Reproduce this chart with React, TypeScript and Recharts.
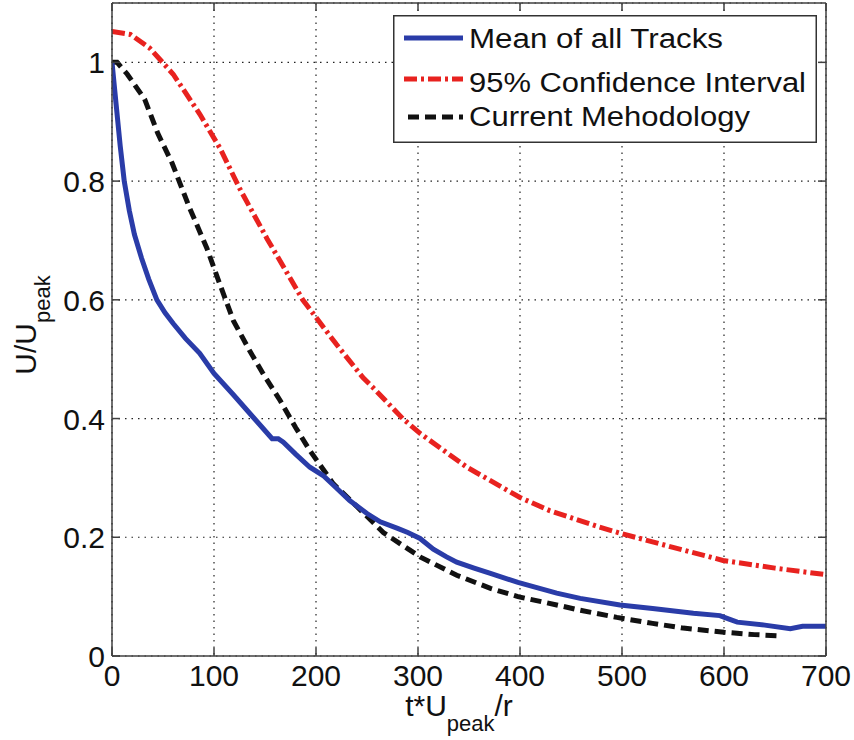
import React from 'react';
import { LineChart, Line, XAxis, YAxis, CartesianGrid, Legend } from 'recharts';

const FONT = '"Liberation Sans", Arial, Helvetica, sans-serif';
const AX = '#404040';

// Mean of all Tracks
const meanX = [0, 4, 8, 12, 17, 22, 29, 36, 44, 52, 60, 72, 86, 100, 119, 138, 157, 163, 168, 180, 194, 207, 220, 233, 250, 263, 280, 290, 302, 315, 328, 338, 355, 371, 398, 436, 459, 498, 530, 570, 596, 605, 613, 640, 665, 677, 700];
const meanY = [1.0, 0.93, 0.86, 0.8, 0.75, 0.71, 0.67, 0.635, 0.6, 0.578, 0.56, 0.535, 0.51, 0.476, 0.44, 0.403, 0.366, 0.366, 0.36, 0.34, 0.318, 0.304, 0.283, 0.262, 0.24, 0.226, 0.215, 0.208, 0.198, 0.18, 0.167, 0.158, 0.148, 0.139, 0.124, 0.106, 0.097, 0.086, 0.08, 0.072, 0.068, 0.062, 0.057, 0.052, 0.046, 0.05, 0.05];

// 95% Confidence Interval
const ciX = [0, 18, 37, 60, 86, 106, 125, 152, 187, 220, 246, 256, 285, 302, 348, 400, 429, 478, 498, 550, 599, 650, 700];
const ciY = [1.052, 1.047, 1.024, 0.98, 0.913, 0.855, 0.788, 0.703, 0.6, 0.525, 0.469, 0.452, 0.4, 0.375, 0.318, 0.267, 0.245, 0.217, 0.207, 0.183, 0.161, 0.148, 0.137];

// Current Mehodology
const cmX = [0, 5, 15, 32, 45, 59, 76, 93, 106, 119, 135, 148, 165, 180, 194, 217, 240, 266, 302, 338, 371, 398, 436, 459, 495, 530, 560, 600, 630, 655];
const cmY = [1.0, 1.0, 0.98, 0.938, 0.88, 0.83, 0.755, 0.687, 0.625, 0.565, 0.514, 0.476, 0.43, 0.385, 0.346, 0.29, 0.252, 0.208, 0.167, 0.136, 0.114, 0.1, 0.086, 0.077, 0.065, 0.055, 0.047, 0.04, 0.036, 0.034];

const xTicks = [0, 100, 200, 300, 400, 500, 600, 700];
const yTicks = [0, 0.2, 0.4, 0.6, 0.8, 1];

const seriesNames = ['Mean of all Tracks', '95% Confidence Interval', 'Current Mehodology'];

const meanData = meanX.map((x, i) => ({ x, y: meanY[i] }));
const ciData = ciX.map((x, i) => ({ x, y: ciY[i] }));
const cmData = cmX.map((x, i) => ({ x, y: cmY[i] }));

const BLUE = '#2a3ca8';
const RED = '#e8221f';
const BLACK = '#111111';

const BottomTick = (p: any) => (
  <g>
    <line x1={p.x} x2={p.x} y1={p.y} y2={p.y - 8} stroke={AX} strokeWidth={1.5} />
    <text x={p.x} y={p.y + 30} textAnchor="middle" fontSize={30} fill="#111" fontFamily={FONT}>
      {p.payload.value}
    </text>
  </g>
);
const TopTick = (p: any) => (
  <line x1={p.x} x2={p.x} y1={p.y} y2={p.y + 8} stroke={AX} strokeWidth={1.5} />
);
const LeftTick = (p: any) => (
  <g>
    <line x1={p.x} x2={p.x + 8} y1={p.y} y2={p.y} stroke={AX} strokeWidth={1.5} />
    <text x={p.x - 7} y={p.y + 11} textAnchor="end" fontSize={30} fill="#111" fontFamily={FONT}>
      {p.payload.value}
    </text>
  </g>
);
const RightTick = (p: any) => (
  <line x1={p.x} x2={p.x - 8} y1={p.y} y2={p.y} stroke={AX} strokeWidth={1.5} />
);

const XTitle = () => (
  <text x={459} y={716} textAnchor="middle" fontSize={30} fill="#111" fontFamily={FONT}>
    <tspan>t*U</tspan>
    <tspan fontSize={22} dy={15}>peak</tspan>
    <tspan fontSize={30} dy={-15}>/r</tspan>
  </text>
);
const YTitle = () => (
  <text transform="translate(36, 325) rotate(-90)" textAnchor="middle" fontSize={30} fill="#111" fontFamily={FONT}>
    <tspan>U/U</tspan>
    <tspan fontSize={22} dy={14}>peak</tspan>
  </text>
);

const legendStyles = [
  { color: BLUE, dash: undefined as string | undefined, ly: 23, ty: 33, len: 254, x1: 11 },
  { color: RED, dash: '13 4 3 4', ly: 64, ty: 77, len: 337, x1: 11 },
  { color: BLACK, dash: '11 6', ly: 102, ty: 111, len: 281, x1: 15 },
];

const LegendBox = () => (
  <svg width={424} height={128} style={{ display: 'block' }}>
    <rect x={0.75} y={0.75} width={422.5} height={126.5} fill="#fff" stroke="#333" strokeWidth={1.5} />
    {seriesNames.map((n, i) => {
      const s = legendStyles[i];
      return (
        <g key={n}>
          <line x1={s.x1} x2={70} y1={s.ly} y2={s.ly} stroke={s.color} strokeWidth={5} strokeDasharray={s.dash} />
          <text x={76} y={s.ty} fontSize={27} fill="#111" fontFamily={FONT} textLength={s.len} lengthAdjust="spacingAndGlyphs">
            {n}
          </text>
        </g>
      );
    })}
  </svg>
);

export default function App() {
  return (
    <div style={{ position: 'absolute', left: 0, top: 0, width: 854, height: 740, background: '#fff' }}>
      <LineChart width={854} height={740} margin={{ top: 0, right: 0, bottom: 0, left: 0 }}>
        <CartesianGrid stroke="#222" strokeWidth={1.2} strokeDasharray="1.5 5" />
        <XAxis
          dataKey="x"
          type="number"
          domain={[0, 700]}
          ticks={xTicks}
          height={84}
          tickSize={0}
          tickMargin={0}
          tickLine={false}
          axisLine={{ stroke: AX, strokeWidth: 1.5 }}
          tick={<BottomTick />}
          interval={0}
          allowDataOverflow
          label={<XTitle />}
        />
        <XAxis
          xAxisId="top"
          orientation="top"
          dataKey="x"
          type="number"
          domain={[0, 700]}
          ticks={xTicks}
          height={3}
          tickSize={0}
          tickMargin={0}
          tickLine={false}
          axisLine={{ stroke: AX, strokeWidth: 1.5 }}
          tick={<TopTick />}
          interval={0}
          allowDataOverflow
        />
        <YAxis
          type="number"
          domain={[0, 1.1]}
          ticks={yTicks}
          width={112}
          tickSize={0}
          tickMargin={0}
          tickLine={false}
          axisLine={{ stroke: AX, strokeWidth: 1.5 }}
          tick={<LeftTick />}
          interval={0}
          allowDataOverflow
          label={<YTitle />}
        />
        <YAxis
          yAxisId="right"
          orientation="right"
          type="number"
          domain={[0, 1.1]}
          ticks={yTicks}
          width={28}
          tickSize={0}
          tickMargin={0}
          tickLine={false}
          axisLine={{ stroke: AX, strokeWidth: 1.5 }}
          tick={<RightTick />}
          interval={0}
          allowDataOverflow
        />
        <Line data={ciData} dataKey="y" name={seriesNames[1]} type="linear" stroke={RED} strokeWidth={5} strokeDasharray="13 4 3 4" dot={false} activeDot={false} isAnimationActive={false} />
        <Line data={cmData} dataKey="y" name={seriesNames[2]} type="linear" stroke={BLACK} strokeWidth={5} strokeDasharray="11 6" dot={false} activeDot={false} isAnimationActive={false} />
        <Line data={meanData} dataKey="y" name={seriesNames[0]} type="linear" stroke={BLUE} strokeWidth={5} dot={false} activeDot={false} isAnimationActive={false} />
        <Legend
          layout="horizontal"
          verticalAlign="middle"
          align="center"
          content={() => <LegendBox />}
          wrapperStyle={{ left: 393, top: 15, width: 424, height: 128 }}
        />
      </LineChart>
    </div>
  );
}
